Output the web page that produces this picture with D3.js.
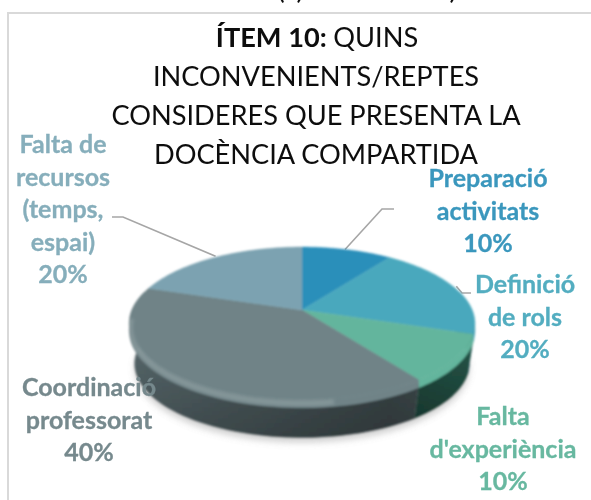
<!DOCTYPE html>
<html>
<head>
<meta charset="utf-8">
<script src="https://cdn.jsdelivr.net/npm/d3@7"></script>
<style>
  html, body { margin: 0; padding: 0; background: #fff; }
  text { font-family: Lato, "Open Sans", sans-serif; }
</style>
</head>
<body>
<div id="chart"></div>
<script>
let width = 591;
let height = 500;

// chart values
let categories = ["Preparació activitats", "Definició de rols", "Falta d'experiència", "Coordinació professorat", "Falta de recursos (temps, espai)"];
let values = [10, 20, 10, 40, 20];
let topColors = ["#2b8fba", "#4aa8bd", "#63b59d", "#6f8387", "#7ba2b1"];
let sideColors = ["#1f6a8a", "#2f7586", "#2f6d5c", "#5f7175", "#5a7581"];
let labelColors = ["#3a97bd", "#52adc0", "#67b8a0", "#76898d", "#86aebb"];
let labelLines = [
    ["Preparació", "activitats", "10%"],
    ["Definició", "de rols", "20%"],
    ["Falta", "d'experiència", "10%"],
    ["Coordinació", "professorat", "40%"],
    ["Falta de", "recursos", "(temps,", "espai)", "20%"]
];
let titleLines = ["QUINS", "INCONVENIENTS/REPTES", "CONSIDERES QUE PRESENTA LA", "DOCÈNCIA COMPARTIDA"];

let svg = d3.select("#chart")
    .append("svg")
    .attr("width", width)
    .attr("height", height)
    .style("display", "block");

let defs = svg.append("defs");

defs.append("filter").attr("id", "soft")
    .append("feGaussianBlur").attr("stdDeviation", 0.8);
defs.append("filter").attr("id", "textSoft")
    .attr("x", 0).attr("y", 0).attr("width", width).attr("height", height)
    .attr("filterUnits", "userSpaceOnUse")
    .append("feGaussianBlur").attr("stdDeviation", 0.35);
defs.append("filter").attr("id", "blur")
    .attr("x", "-20%").attr("y", "-20%").attr("width", "140%").attr("height", "140%")
    .append("feGaussianBlur").attr("stdDeviation", 3);
defs.append("filter").attr("id", "blurSmall")
    .attr("x", "-20%").attr("y", "-20%").attr("width", "140%").attr("height", "140%")
    .append("feGaussianBlur").attr("stdDeviation", 1.8);

// darkens the side towards the bottom edge
let sideShade = defs.append("linearGradient").attr("id", "sideShade")
    .attr("x1", 0).attr("x2", 0).attr("y1", 0).attr("y2", 1);
sideShade.append("stop").attr("offset", "0%").attr("stop-color", "#000").attr("stop-opacity", 0);
sideShade.append("stop").attr("offset", "100%").attr("stop-color", "#000").attr("stop-opacity", 0.3);

// and towards the right, the light comes from the left
let sideLight = defs.append("linearGradient").attr("id", "sideLight")
    .attr("gradientUnits", "userSpaceOnUse")
    .attr("x1", 130).attr("x2", 476).attr("y1", 0).attr("y2", 0);
sideLight.append("stop").attr("offset", "0%").attr("stop-color", "#000").attr("stop-opacity", 0);
sideLight.append("stop").attr("offset", "75%").attr("stop-color", "#000").attr("stop-opacity", 0.32);
sideLight.append("stop").attr("offset", "100%").attr("stop-color", "#000").attr("stop-opacity", 0.2);

// frame
svg.append("rect")
    .attr("x", 8).attr("y", 13)
    .attr("width", 600).attr("height", 520)
    .attr("fill", "none")
    .attr("stroke", "#d9d9d9")
    .attr("stroke-width", 2);

// tilted disc: angle from the top, clockwise, to the screen, with some perspective
let apex = {x: 302, y: 310};
let persp = 0.176;
let rx = 170;
let ry = 74;
let depth = 41;
let bevel = 8;

function project(a, r, z) {
    let t = -Math.cos(a) * r;
    let k = 1 / (1 - persp * t);
    return [apex.x + rx * Math.sin(a) * r * k, apex.y + ry * t * k + z];
}

function angles(a0, a1) {
    return d3.range(0, 61).map(i => a0 + (a1 - a0) * i / 60);
}

let line = d3.line();

let pie = d3.pie().sort(null);
let slices = pie(values);

// leader lines
let leaderData = [
    [project(0.3, 1, 0), [382, 209], [394, 209]],
    [project(1.27, 1, -3), [462, 293], [471, 293]],
    [project(-0.62, 1, -1), [123, 217], [112, 217]]
];
leaderData.forEach(function (p) {
    svg.append("path")
        .attr("d", line(p))
        .attr("fill", "none")
        .attr("stroke", "#a6a6a6")
        .attr("stroke-width", 1.6);
});

let g = svg.append("g").attr("filter", "url(#soft)");

// shadow under the disc
g.append("path")
    .attr("d", line(angles(Math.PI * 0.5, Math.PI * 1.5).map(a => project(a, 0.97, depth + 5))))
    .attr("fill", "#999")
    .attr("opacity", 0.45)
    .attr("filter", "url(#blur)");

// side walls, only the front half can be seen
slices.forEach(function (s, i) {
    let a0 = Math.max(s.startAngle, Math.PI * 0.42);
    let a1 = Math.min(s.endAngle, Math.PI * 1.58);
    if (a1 <= a0) return;
    let upper = angles(a0, a1).map(a => project(a, 1, bevel - 3));
    let lower = angles(a0, a1).map(a => project(a, 0.97, depth)).reverse();
    let d = line(upper.concat(lower)) + "Z";
    g.append("path").attr("d", d).attr("fill", sideColors[i]).attr("stroke", sideColors[i]).attr("stroke-width", 0.5);
    g.append("path").attr("d", d).attr("fill", "url(#sideShade)");
    g.append("path").attr("d", d).attr("fill", "url(#sideLight)");

    // rounded edge between the side and the top face
    let edgeTop = angles(a0, a1).map(a => project(a, 1, 0));
    let edgeLow = angles(a0, a1).map(a => project(a, 1, bevel)).reverse();
    g.append("path")
        .attr("d", line(edgeTop.concat(edgeLow)) + "Z")
        .attr("fill", topColors[i])
        .attr("stroke", topColors[i])
        .attr("stroke-width", 0.5);
});

// top face
slices.forEach(function (s, i) {
    let pts = [project(0, 0, 0)].concat(angles(s.startAngle, s.endAngle).map(a => project(a, 1, 0)));
    g.append("path")
        .attr("d", line(pts) + "Z")
        .attr("fill", topColors[i])
        .attr("stroke", topColors[i])
        .attr("stroke-width", 0.5);
});

// highlight along the rounded edge
g.append("path")
    .attr("d", line(angles(Math.PI * 0.95, Math.PI * 1.48).map(a => project(a, 0.995, 4))))
    .attr("fill", "none")
    .attr("stroke", "#fff")
    .attr("stroke-opacity", 0.16)
    .attr("stroke-width", 5)
    .attr("filter", "url(#blurSmall)");

let textLayer = svg.append("g").attr("filter", "url(#textSoft)");

// title
let title = textLayer.append("g").attr("font-size", 27.2).attr("fill", "#0c0c0c").attr("text-anchor", "middle");
let first = title.append("text").attr("x", 317).attr("y", 47);
first.append("tspan").attr("font-weight", 700).text("ÍTEM 10: ");
first.append("tspan").text(titleLines[0]);
titleLines.slice(1).forEach(function (t, i) {
    title.append("text").attr("x", 316).attr("y", 86 + i * 39).text(t);
});

// bits of the line above the frame, cut by the top of the picture
[["(", 281], [")", 300], [")", 453]].forEach(function (p) {
    textLayer.append("text")
        .attr("x", p[1]).attr("y", -1)
        .attr("font-size", 27)
        .attr("fill", "#0c0c0c")
        .attr("text-anchor", "middle")
        .text(p[0]);
});

// data labels
let labelPos = [[488, 187], [525, 293], [503, 425], [89, 396], [63, 153]];
labelLines.forEach(function (lines, i) {
    let lab = textLayer.append("text")
        .attr("font-size", 25)
        .attr("font-weight", 700)
        .attr("fill", labelColors[i])
        .attr("stroke", labelColors[i])
        .attr("stroke-width", 0.3)
        .attr("text-anchor", "middle");
    lines.forEach(function (t, j) {
        lab.append("tspan")
            .attr("x", labelPos[i][0])
            .attr("y", labelPos[i][1] + j * 32.5)
            .text(t);
    });
});
</script>
</body>
</html>
